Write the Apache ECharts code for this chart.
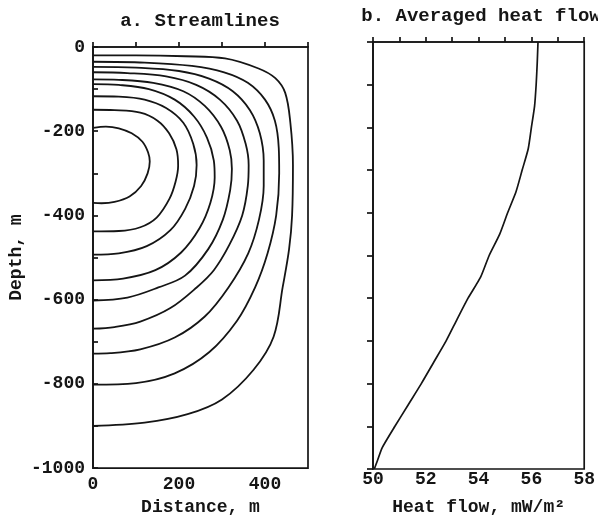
<!DOCTYPE html>
<html>
<head>
<meta charset="utf-8">
<script src="https://cdn.jsdelivr.net/npm/echarts@6/dist/echarts.min.js"></script>
<style>
html,body{margin:0;padding:0;background:#fff;}
#chart{width:598px;height:521px;}
</style>
</head>
<body>
<div id="chart"></div>
<script>
// ---- Panel a: streamlines, [distance m, depth m] ----
const streamline1 = [[0,-192],[30,-189],[60,-193],[90,-205],[115,-225],[128,-250],[132,-272],[127,-300],[112,-330],[85,-355],[50,-368],[20,-371],[0,-370]];
const streamline2 = [[0,-149],[50,-150],[110,-156],[150,-175],[177,-205],[194,-243],[198,-282],[192,-320],[178,-360],[148,-405],[110,-428],[60,-437],[0,-438]];
const streamline3 = [[0,-117],[60,-118],[120,-125],[170,-145],[210,-180],[233,-230],[241,-280],[235,-330],[214,-385],[180,-435],[125,-473],[60,-490],[0,-493]];
const streamline4 = [[0,-88],[60,-90],[130,-100],[190,-125],[235,-165],[265,-215],[281,-270],[283,-310],[273,-370],[248,-430],[205,-488],[145,-530],[70,-550],[0,-554]];
const streamline5 = [[0,-77],[60,-78],[140,-85],[210,-105],[260,-140],[298,-190],[318,-245],[323,-290],[319,-340],[302,-410],[268,-480],[214,-543],[152,-571],[80,-595],[0,-602]];
const streamline6 = [[0,-60],[80,-62],[170,-70],[240,-90],[295,-125],[335,-175],[355,-230],[362,-280],[360,-330],[347,-400],[317,-470],[281,-530],[241,-571],[180,-620],[110,-652],[50,-665],[0,-669]];
const streamline7 = [[0,-47],[100,-49],[200,-57],[270,-75],[325,-105],[365,-150],[388,-205],[397,-270],[397,-330],[386,-410],[361,-490],[315,-571],[260,-640],[190,-690],[110,-718],[40,-727],[0,-728]];
const streamline8 = [[0,-35],[120,-37],[230,-45],[305,-60],[360,-85],[400,-125],[423,-175],[432,-240],[433,-300],[426,-400],[406,-490],[377,-571],[335,-650],[270,-725],[190,-775],[100,-798],[0,-802]];
const streamline9 = [[0,-20],[100,-20],[214,-22],[307,-27],[385,-51],[424,-74],[447,-109],[459,-180],[465,-280],[463,-400],[456,-480],[441,-571],[420,-688],[373,-767],[300,-837],[220,-872],[120,-892],[0,-900]];
const streamlines = [streamline1, streamline2, streamline3, streamline4, streamline5, streamline6, streamline7, streamline8, streamline9];

// ---- Panel b: averaged heat flow ----
const heatDepth = [0,-50,-100,-150,-200,-250,-300,-350,-400,-450,-500,-550,-600,-650,-700,-750,-800,-850,-900,-950,-980,-1000];
const heatFlow  = [56.25,56.22,56.18,56.12,56.0,55.88,55.65,55.42,55.1,54.8,54.4,54.08,53.6,53.18,52.77,52.3,51.83,51.33,50.83,50.35,50.17,50.05];

// ---- Tick labels ----
const distanceLabels = [0,200,400];
const depthLabels = [0,-200,-400,-600,-800,-1000];
const heatLabels = [50,52,54,56,58];

const FONT = 'Liberation Mono';
const INK = '#151515';

const chart = echarts.init(document.getElementById('chart'), null, {renderer:'canvas'});

const series = streamlines.map((pts, i) => ({
  type: 'line', name: 'streamline' + (i+1),
  xAxisIndex: 0, yAxisIndex: 0,
  data: pts, showSymbol: false, symbol: 'none', smooth: 0.35,
  lineStyle: {color: INK, width: 1.8}, silent: true
}));
series.push({
  type: 'line', name: 'heat flow',
  xAxisIndex: 1, yAxisIndex: 1,
  data: heatFlow.map((v, i) => [v, heatDepth[i]]),
  showSymbol: false, symbol: 'none', smooth: 0.2,
  lineStyle: {color: INK, width: 1.7}, silent: true
});

const labelStyle = {fontFamily: FONT, fontWeight: 'bold', fontSize: 18, color: INK};
const nameStyle = {fontFamily: FONT, fontWeight: 'bold', fontSize: 18, color: INK};
const lineSty = {color: INK, width: 1.7};

chart.setOption({
  animation: false,
  backgroundColor: '#fff',
  textStyle: {fontFamily: FONT, fontWeight: 'bold', color: INK},
  title: [
    {text: 'a. Streamlines', left: 195, top: 7, textAlign: 'center',
     textStyle: {fontFamily: FONT, fontWeight: 'bold', fontSize: 19, color: INK}},
    {text: 'b. Averaged heat flow', left: 476, top: 2, textAlign: 'center',
     textStyle: {fontFamily: FONT, fontWeight: 'bold', fontSize: 19, color: INK}}
  ],
  grid: [
    {left: 93, top: 47, width: 215, height: 426, show: true, borderColor: INK, borderWidth: 1.7, backgroundColor: 'transparent'},
    {left: 373, top: 42, width: 214, height: 427, show: true, borderColor: INK, borderWidth: 1.7, backgroundColor: 'transparent'}
  ],
  xAxis: [
    {type: 'value', gridIndex: 0, min: 0, max: 500, interval: 100,
     axisLine: {show: true, lineStyle: lineSty},
     axisTick: {show: true, inside: true, length: 5, lineStyle: lineSty},
     axisLabel: {...labelStyle, margin: 7, formatter: v => distanceLabels.includes(v) ? String(v) : ''},
     splitLine: {show: false},
     name: 'Distance, m', nameLocation: 'middle', nameGap: 27, nameTextStyle: nameStyle},
    {type: 'value', gridIndex: 1, min: 50, max: 58, interval: 1,
     axisLine: {show: true, lineStyle: lineSty},
     axisTick: {show: true, inside: true, length: 5, lineStyle: lineSty},
     axisLabel: {...labelStyle, margin: 1, formatter: v => heatLabels.includes(v) ? String(v) : ''},
     splitLine: {show: false},
     name: 'Heat flow, mW/m²', nameLocation: 'middle', nameGap: 29, nameTextStyle: nameStyle}
  ],
  yAxis: [
    {type: 'value', gridIndex: 0, min: -1000, max: 0, interval: 100,
     axisLine: {show: true, lineStyle: lineSty},
     axisTick: {show: true, inside: true, length: 5, lineStyle: lineSty},
     axisLabel: {...labelStyle, margin: 8, formatter: v => depthLabels.includes(v) ? String(v) : ''},
     splitLine: {show: false},
     name: 'Depth, m', nameLocation: 'middle', nameGap: 68, nameRotate: 90, nameTextStyle: nameStyle},
    {type: 'value', gridIndex: 1, min: -1000, max: 0, interval: 100,
     axisLine: {show: true, lineStyle: lineSty},
     axisTick: {show: true, inside: false, length: 6, lineStyle: lineSty},
     axisLabel: {show: false},
     splitLine: {show: false}}
  ],
  series: series
});
</script>
</body>
</html>
